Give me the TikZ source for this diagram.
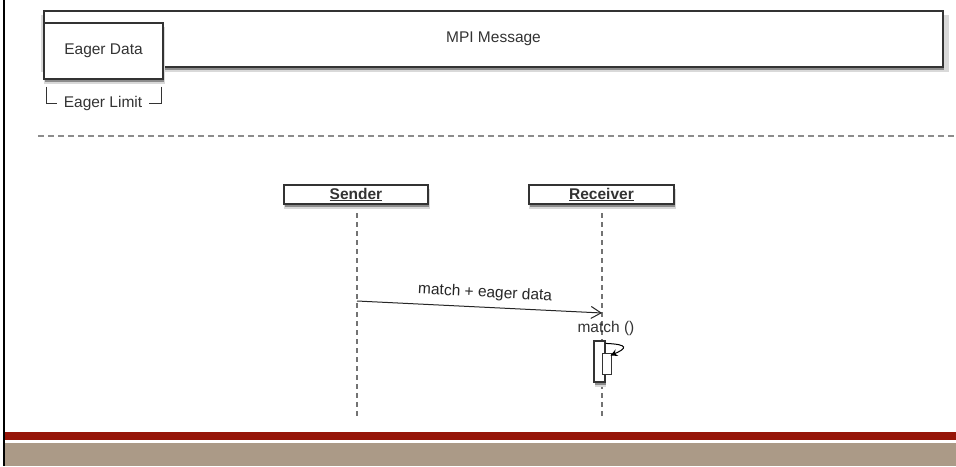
\documentclass[tikz,border=0pt]{standalone}
\usepackage{fontspec}
\setmainfont{Liberation Sans}
\usetikzlibrary{arrows.meta,shadows}
\definecolor{bandred}{RGB}{150,21,8}
\definecolor{bandtaupe}{RGB}{171,154,135}
\begin{document}
\begin{tikzpicture}[x=1pt,y=-1pt,
    font=\fontsize{15.5}{18}\selectfont, text=black!80,
    box/.style={draw=black!80, line width=1.2pt, fill=white, inner sep=0pt,
      general shadow={fill=black!15, shadow xshift=1pt, shadow yshift=-4.5pt, shadow scale=1.01},
      general shadow={fill=black!45, shadow xshift=1pt, shadow yshift=-2.5pt}},
    lifeline/.style={draw=black!55, line width=1.2pt, dash pattern=on 5pt off 4pt}]
  \useasboundingbox (0,0) rectangle (956,466);
  % frame and footer bands
  \draw[line width=1.5pt] (4,0) -- (4,466);
  \fill[bandred] (5,432) rectangle (956,440);
  \fill[bandtaupe] (5,443) rectangle (956,466);
  % message layout
  \node[box, minimum width=899pt, minimum height=56pt] (msg) at (493.5,39) {MPI Message};
  \node[box, minimum width=119pt, minimum height=56pt] (eager) at (103.5,51) {Eager Data};
  \node[inner xsep=7pt] (limit) at (103,103) {Eager Limit};
  \draw[line width=1pt, black!80] ([xshift=3pt,yshift=-7pt]eager.south west) |- (limit.west);
  \draw[line width=1pt, black!80] ([xshift=-2pt,yshift=-7pt]eager.south east) |- (limit.east);
  \draw[black!45, line width=2pt, dash pattern=on 6pt off 4pt] (38,136) -- (956,136);
  % sequence
  \coordinate (sendend) at (357,419);
  \coordinate (recvend) at (602,419);
  \draw[lifeline] (357,204) -- (sendend);
  \draw[lifeline] (602,204) -- (recvend);
  \node[box, minimum width=144pt, minimum height=19pt] (sender) at (356,194.5) {\textbf{\underline{Sender}}};
  \node[box, minimum width=145pt, minimum height=19pt] (receiver) at (601.5,194.5) {\textbf{\underline{Receiver}}};
  \coordinate (m1) at (357,301);
  \coordinate (m2) at (602,313);
  \draw[black!85, line width=1pt, -{Straight Barb[length=10pt,width=12pt]}] (m1) -- node[above=3pt, sloped, pos=0.52] {match + eager data} (m2);
  \node (matchlbl) at (606,328) {match ()};
  \node[box, minimum width=11pt, minimum height=41pt] (act) at (599.5,361.5) {};
  \node[draw=black!80, fill=white, line width=1pt, minimum width=9pt, minimum height=21pt, inner sep=0pt] (inner) at (606.5,363.5) {};
  \draw[black, line width=1pt, -{Stealth[length=7pt,width=7pt]}] ([yshift=-3pt]act.north east) .. controls +(24,1) and +(16,-7) .. ([xshift=-1pt,yshift=-3pt]inner.north east);
\end{tikzpicture}
\end{document}
